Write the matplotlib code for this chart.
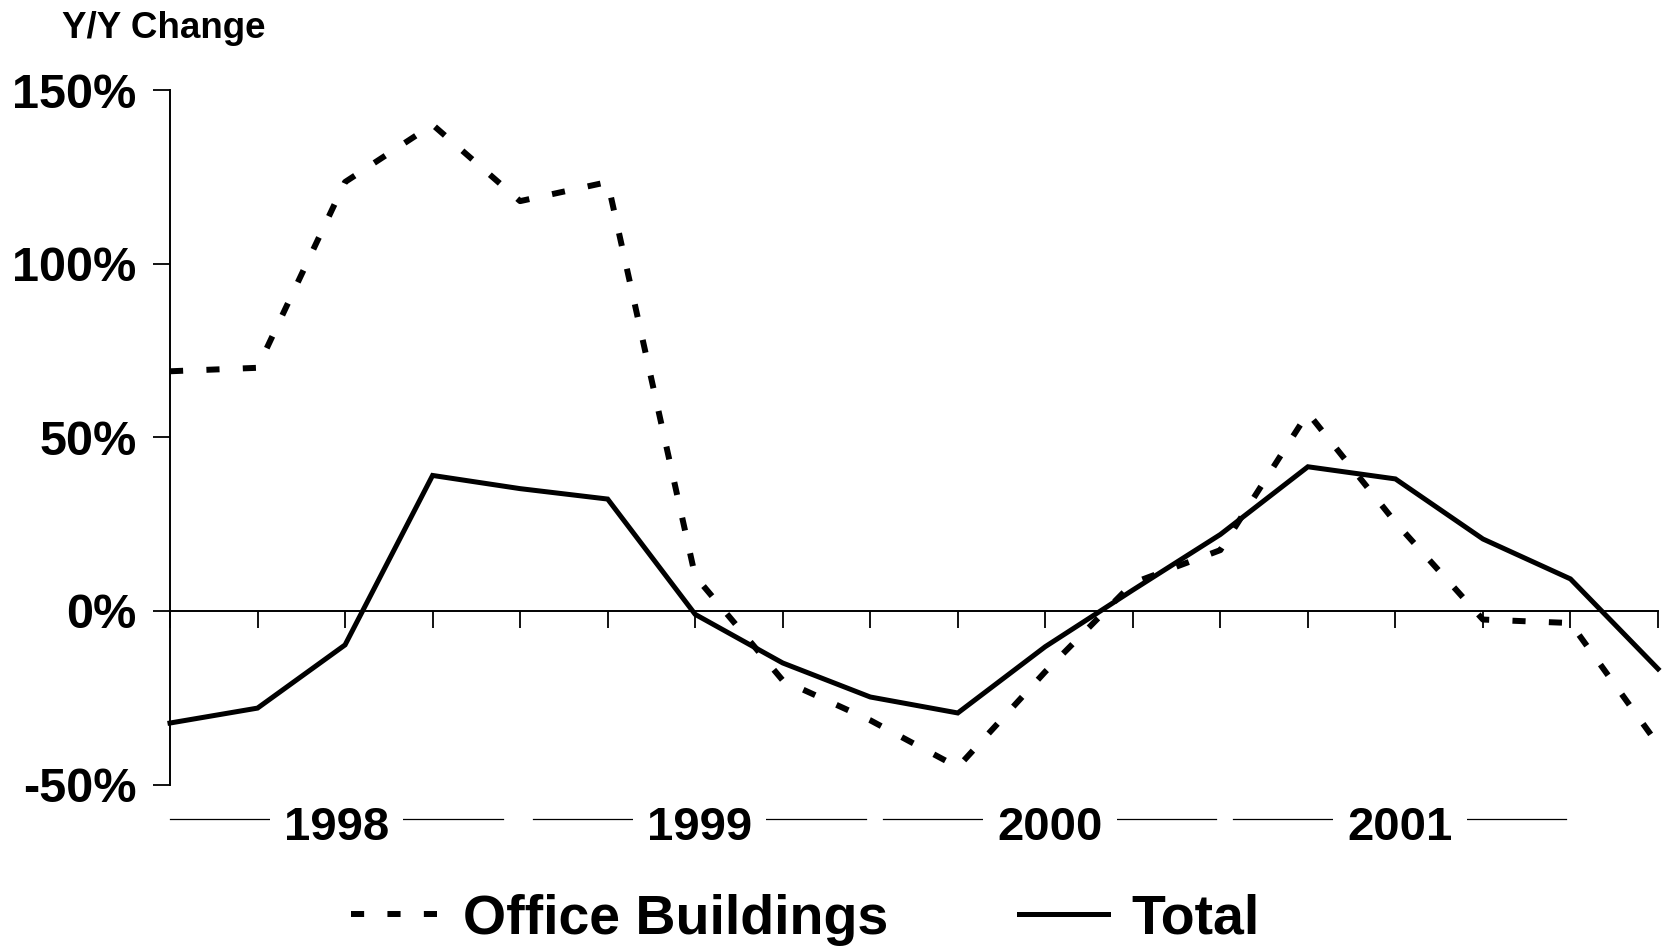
import matplotlib
matplotlib.use("Agg")
import matplotlib.pyplot as plt
import matplotlib.transforms as mtransforms
import numpy as np

plt.rcParams['font.family'] = ['Liberation Sans', 'DejaVu Sans']
plt.rcParams['font.weight'] = 'bold'

# quarterly y/y change, 1998Q1 .. 2002Q2
quarters = ['1998Q1', '1998Q2', '1998Q3', '1998Q4',
            '1999Q1', '1999Q2', '1999Q3', '1999Q4',
            '2000Q1', '2000Q2', '2000Q3', '2000Q4',
            '2001Q1', '2001Q2', '2001Q3', '2001Q4',
            '2002Q1', '2002Q2']
office = [69, 70, 123.5, 140, 118, 123.5, 10, -20, -31.5, -45,
          -17.5, 8, 17.5, 57, 25.5, -2.5, -3.5, -38.5]
total = [-32.3, -28, -9.8, 39, 35.2, 32.2, -1, -15, -24.8, -29.4,
         -10.3, 6, 22, 41.5, 38, 20.7, 9.2, -16.7]

year_labels = ['1998', '1999', '2000', '2001']
ytick_vals = [-50, 0, 50, 100, 150]
ytick_labels = ['-50%', '0%', '50%', '100%', '150%']

def main():
    fig = plt.figure(figsize=(16.67, 9.48), dpi=100)
    ax = fig.add_axes([170 / 1667, 1 - 784.5 / 948, (1658 - 170) / 1667, (784.5 - 90) / 948])

    x = np.arange(len(quarters))

    ax.plot(x, office, color='black', linewidth=4.3, linestyle=(0, (2.2, 3.9)),
            label='Office Buildings', clip_on=False)
    ax.plot(x, total, color='black', linewidth=3.6, linestyle='solid',
            label='Total', clip_on=False, solid_joinstyle='miter')

    ax.set_xlim(0, len(quarters) - 1)
    ax.set_ylim(-50, 150)

    # axes look
    ax.spines['top'].set_visible(False)
    ax.spines['right'].set_visible(False)
    ax.spines['bottom'].set_position(('data', 0))
    ax.spines['left'].set_linewidth(1.4)
    ax.spines['bottom'].set_linewidth(1.4)

    ax.set_xticks(x)
    ax.tick_params(axis='x', direction='out', length=12, width=1.3, labelbottom=False)
    ax.set_yticks(ytick_vals)
    ax.set_yticklabels(ytick_labels, fontsize=35, fontweight='bold')
    ax.tick_params(axis='y', direction='out', length=12, width=1.3, pad=12)

    # year group labels under the axis
    trans = mtransforms.blended_transform_factory(ax.transData, ax.transAxes)
    for k, yr in enumerate(year_labels):
        idx = [i for i, q in enumerate(quarters) if q.startswith(yr)]
        c = np.mean(idx) + 0.5
        if k == 0:
            c -= 0.1
        else:
            c += 0.05
        ax.plot([c - 1.9, c + 1.9], [-0.0497, -0.0497], color='black', linewidth=0.9,
                transform=trans, clip_on=False)
        ax.text(c, -0.0799, yr, transform=trans, ha='center', va='baseline',
                fontsize=34, fontweight='bold',
                bbox=dict(boxstyle='square,pad=0.3', fc='white', ec='none'))

    fig.text(62 / 1667, 1 - 38 / 948, 'Y/Y Change', fontsize=26.5, fontweight='bold',
             va='baseline', ha='left')

    fig.legend(loc='center', bbox_to_anchor=(0.483, 0.03), ncol=2, frameon=False,
               prop={'size': 40, 'weight': 'bold'}, handlelength=1.6,
               handletextpad=0.42, columnspacing=2.35, borderpad=0)

    fig.savefig('out.png', dpi=100)

if __name__ == '__main__':
    main()
